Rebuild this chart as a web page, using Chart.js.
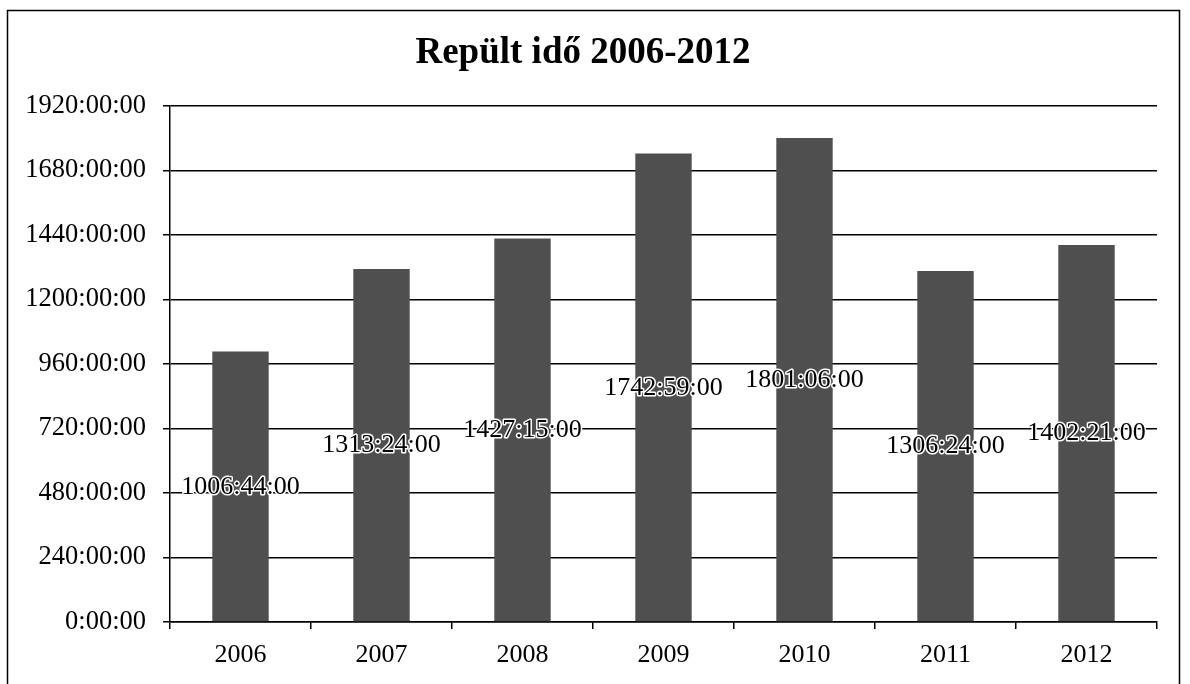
<!DOCTYPE html>
<html>
<head>
<meta charset="utf-8">
<script src="https://cdn.jsdelivr.net/npm/chart.js@4.4.0/dist/chart.umd.min.js"></script>
<style>
html,body{margin:0;padding:0;background:#fff;}
#wrap{width:1190px;height:684px;position:relative;}
</style>
</head>
<body>
<div id="wrap"><canvas id="c" width="1190" height="684"></canvas></div>
<script>
const titleText = "Repült idő 2006-2012";
const years = ["2006","2007","2008","2009","2010","2011","2012"];
const durations = ["1006:44:00","1313:24:00","1427:15:00","1742:59:00","1801:06:00","1306:24:00","1402:21:00"];
const yTicksMax = 1920;
const yTickStep = 240;

function toHours(s){const p=s.split(':').map(Number);return p[0]+p[1]/60+p[2]/3600;}
const hours = durations.map(toHours);

const serif = "'Liberation Serif','Times New Roman',serif";

const framePlugin = {
  id:'frame',
  beforeDraw(chart){
    const ctx=chart.ctx;
    ctx.save();
    ctx.fillStyle='#fff';ctx.fillRect(0,0,chart.width,chart.height);
    ctx.strokeStyle='#000';ctx.lineWidth=1.5;
    ctx.strokeRect(7.5,10.5,1172,700);
    ctx.fillStyle='#000';
    ctx.font="bold 37px "+serif;
    ctx.textAlign='center';ctx.textBaseline='alphabetic';
    ctx.fillText(titleText,583,63);
    ctx.restore();
  }
};
const labelPlugin = {
  id:'vlabels',
  afterDatasetsDraw(chart){
    const ctx=chart.ctx;
    const meta=chart.getDatasetMeta(0);
    const ys=chart.scales.y;
    ctx.save();
    ctx.font="26px "+serif;
    ctx.textAlign='center';ctx.textBaseline='middle';
    meta.data.forEach((bar,i)=>{
      const y=ys.getPixelForValue(hours[i]/2);
      ctx.lineWidth=3;ctx.strokeStyle='#fff';ctx.lineJoin='round';
      ctx.strokeText(durations[i],bar.x,y);
      ctx.fillStyle='#000';
      ctx.fillText(durations[i],bar.x,y);
    });
    ctx.restore();
  }
};

new Chart(document.getElementById('c'),{
  type:'bar',
  data:{labels:years,datasets:[{data:hours,backgroundColor:'#4f4f4f',borderWidth:0,categoryPercentage:1,barPercentage:0.4}]},
  options:{
    responsive:false,animation:false,
    layout:{padding:{top:106,right:33,bottom:0,left:0}},
    plugins:{legend:{display:false},title:{display:false},tooltip:{enabled:false}},
    scales:{
      x:{
        grid:{display:true,drawOnChartArea:false,drawTicks:true,tickLength:7,color:'#000',lineWidth:1.5,offset:true},
        border:{display:true,color:'#000',width:1.5},
        ticks:{color:'#000',font:{family:serif,size:26},padding:11},
        afterFit(s){s.height=62;}
      },
      y:{
        min:0,max:yTicksMax,
        grid:{color:'#000',lineWidth:1.5,drawTicks:true,tickLength:7},
        border:{display:true,color:'#000',width:1.5},
        ticks:{stepSize:yTickStep,color:'#000',font:{family:serif,size:26.5},padding:17,
          callback:v=>v+":00:00"},
        afterFit(s){s.width=170;}
      }
    }
  },
  plugins:[framePlugin,labelPlugin]
});
</script>
</body>
</html>
